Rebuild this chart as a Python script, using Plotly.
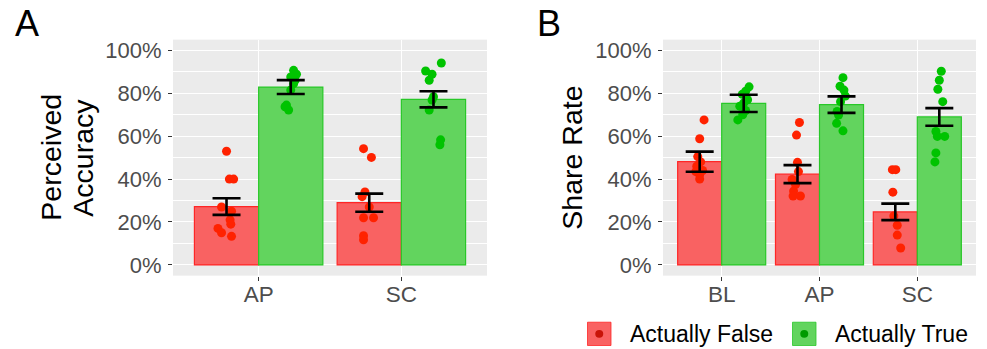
import plotly.graph_objects as go

FONT = "Liberation Sans, Arial, sans-serif"

# ---------------- data ----------------
# Panel A: Perceived Accuracy (%)
a_cats = ["AP", "SC"]
a_false_mean = [27.2, 29.0]
a_false_se = [3.9, 4.2]
a_true_mean = [82.9, 77.2]
a_true_se = [3.25, 3.75]
a_false_pts = [
    [53, 40, 40, 27, 25, 21, 19, 17, 15, 13.3],
    [54.2, 50.1, 34, 31.8, 27, 22, 22, 13.6, 11.7],
]
a_false_jit = [
    [0, .02, .05, -.035, .035, .025, .03, -.06, -.035, .035],
    [-.04, .015, -.03, -.05, 0, -.04, .03, -.04, -.04],
]
a_true_pts = [
    [90.7, 88.9, 87.6, 86, 84.5, 81.5, 74.5, 73.7, 72.2],
    [94.1, 90.4, 88.9, 86.1, 78.4, 76.9, 72.2, 58.3, 56],
]
a_true_jit = [
    [.02, .04, 0, .03, .02, 0, -.03, -.04, -.015],
    [.055, -.055, -.01, -.03, 0, -.01, -.03, .05, .045],
]

# Panel B: Share Rate (%)
b_cats = ["BL", "AP", "SC"]
b_false_mean = [48.1, 42.3, 24.7]
b_false_se = [4.7, 4.2, 3.85]
b_true_mean = [75.3, 74.7, 69.0]
b_true_se = [4.0, 3.85, 4.1]
b_false_pts = [
    [67.6, 58.8, 50.5, 48, 46, 44, 43.5, 42, 40],
    [66.4, 60.5, 47.8, 43.5, 39.8, 37.5, 34.4, 32.1, 32.1],
    [44.4, 44.4, 33.9, 22.8, 18.5, 13.9, 7.9],
]
b_false_jit = [
    [.045, 0, -.02, .01, -.03, .03, -.04, 0, 0],
    [.02, -.01, 0, .01, -.055, -.02, -.04, .03, -.045],
    [-.03, .005, -.025, -.015, .02, .02, .055],
]
b_true_pts = [
    [83, 81, 79.5, 77, 75.5, 74, 72, 70, 67.6],
    [87.3, 83.3, 81.5, 78.7, 76.1, 71.5, 69.9, 66, 62.5],
    [90.3, 86.1, 81.9, 76.1, 62.2, 59.9, 59.9, 52.2, 48],
]
b_true_jit = [
    [.055, .02, -.015, .04, 0, -.04, .02, -.01, -.06],
    [.015, -.015, .025, .04, -.01, -.045, -.03, -.05, .015],
    [.02, 0, -.015, .035, -.035, .055, -.02, -.035, -.045],
]

y_ticks = [0, 20, 40, 60, 80, 100]
y_tick_labels = ["0%", "20%", "40%", "60%", "80%", "100%"]
legend_labels = ["Actually False", "Actually True"]

# ---------------- styles ----------------
RED_FILL, RED_LINE, RED_PT, RED_KEYDOT = "#F96262", "#FF2626", "#FF2200", "#C81408"
GRN_FILL, GRN_LINE, GRN_PT, GRN_KEYDOT = "#62D45E", "#28C828", "#00C300", "#009A00"
BW = 0.45  # each bar width (dodge 0.9)

W, H = 987, 349
fig = go.Figure()


def add_panel(xa, ya, cats, fm, fse, tm, tse, fpts, fjit, tpts, tjit):
    pos = list(range(1, len(cats) + 1))
    xf = [p - BW / 2 for p in pos]
    xt = [p + BW / 2 for p in pos]
    fig.add_trace(go.Bar(x=xf, y=fm, width=BW, marker=dict(color=RED_FILL, line=dict(color=RED_LINE, width=1.2)),
                         xaxis=xa, yaxis=ya, showlegend=False, hoverinfo="skip"))
    fig.add_trace(go.Bar(x=xt, y=tm, width=BW, marker=dict(color=GRN_FILL, line=dict(color=GRN_LINE, width=1.2)),
                         xaxis=xa, yaxis=ya, showlegend=False, hoverinfo="skip"))
    # jittered points
    for centers, pts, jit, col in ((xf, fpts, fjit, RED_PT), (xt, tpts, tjit, GRN_PT)):
        px, py = [], []
        for c, vals, js in zip(centers, pts, jit):
            for v, j in zip(vals, js):
                px.append(c + j)
                py.append(v)
        fig.add_trace(go.Scatter(x=px, y=py, mode="markers", marker=dict(color=col, size=9, line=dict(width=0)),
                                 xaxis=xa, yaxis=ya, showlegend=False, hoverinfo="skip"))
    # error bars on top
    for centers, m, se in ((xf, fm, fse), (xt, tm, tse)):
        fig.add_trace(go.Scatter(x=centers, y=m, mode="markers", marker=dict(size=1, color="rgba(0,0,0,0)"),
                                 error_y=dict(type="data", array=se, visible=True, color="black", thickness=2.6, width=14),
                                 xaxis=xa, yaxis=ya, showlegend=False, hoverinfo="skip"))
    return pos


posA = add_panel("x", "y", a_cats, a_false_mean, a_false_se, a_true_mean, a_true_se,
                 a_false_pts, a_false_jit, a_true_pts, a_true_jit)
posB = add_panel("x2", "y2", b_cats, b_false_mean, b_false_se, b_true_mean, b_true_se,
                 b_false_pts, b_false_jit, b_true_pts, b_true_jit)

ydom = [1 - 277 / H, 1 - 39 / H]
common_x = dict(showgrid=True, gridcolor="white", gridwidth=1.3, zeroline=False, ticks="outside", ticklen=4,
                tickwidth=1.1, tickcolor="#333333", tickfont=dict(family=FONT, size=22.5, color="#4D4D4D"),
                showline=False, fixedrange=True, tickmode="array", ticklabelstandoff=-6)
common_y = dict(range=[-5, 105], tickmode="array", tickvals=y_ticks, ticktext=y_tick_labels,
                showgrid=True, gridcolor="white", gridwidth=1.3,
                zeroline=False, ticks="outside", ticklen=4, tickwidth=1.1, tickcolor="#333333",
                tickfont=dict(family=FONT, size=22, color="#4D4D4D"), showline=False, fixedrange=True,
                minor=dict(tickmode="array", tickvals=[10, 30, 50, 70, 90], showgrid=True,
                           gridcolor="white", gridwidth=0.6, ticks=""),
                domain=ydom, ticklabelstandoff=2)

fig.update_layout(
    width=W, height=H, margin=dict(l=0, r=0, t=0, b=0),
    paper_bgcolor="white", plot_bgcolor="#EBEBEB",
    barmode="overlay", showlegend=False,
    font=dict(family=FONT),
    xaxis=dict(common_x, domain=[173 / W, 487 / W], range=[0.4, len(a_cats) + 0.6], tickvals=posA,
               ticktext=a_cats, anchor="y"),
    yaxis=dict(common_y, anchor="x"),
    xaxis2=dict(common_x, domain=[663 / W, 976 / W], range=[0.4, len(b_cats) + 0.6], tickvals=posB,
                ticktext=b_cats, anchor="y2"),
    yaxis2=dict(common_y, anchor="x2"),
)

ann = []
# panel labels
ann.append(dict(text="A", x=27 / W, y=1 - 23 / H, xref="paper", yref="paper", showarrow=False,
                font=dict(family=FONT, size=36, color="black"), xanchor="center", yanchor="middle"))
ann.append(dict(text="B", x=549 / W, y=1 - 23 / H, xref="paper", yref="paper", showarrow=False,
                font=dict(family=FONT, size=36, color="black"), xanchor="center", yanchor="middle"))
ymid = 1 - 158 / H
# axis titles
ann.append(dict(text="Perceived", x=51 / W, y=ymid, xref="paper", yref="paper", showarrow=False, textangle=-90,
                font=dict(family=FONT, size=28.5, color="black"), xanchor="center", yanchor="middle"))
ann.append(dict(text="Accuracy", x=83 / W, y=ymid, xref="paper", yref="paper", showarrow=False, textangle=-90,
                font=dict(family=FONT, size=28.5, color="black"), xanchor="center", yanchor="middle"))
ann.append(dict(text="Share Rate", x=572 / W, y=ymid, xref="paper", yref="paper", showarrow=False, textangle=-90,
                font=dict(family=FONT, size=28.5, color="black"), xanchor="center", yanchor="middle"))

# manual legend (key squares with dot + text)
shapes = []
keys = [(587.5, RED_FILL, RED_LINE, RED_KEYDOT, 628), (792.5, GRN_FILL, GRN_LINE, GRN_KEYDOT, 833)]
for (kx, fill, line, dot, tx), lab in zip(keys, legend_labels):
    shapes.append(dict(type="rect", xref="paper", yref="paper", x0=kx / W, x1=(kx + 23.5) / W,
                       y0=1 - 347.5 / H, y1=1 - 324 / H, fillcolor=fill, line=dict(color=line, width=0.8), layer="above"))
    cx, cy = kx + 11.75, 335.75
    shapes.append(dict(type="circle", xref="paper", yref="paper", x0=(cx - 4) / W, x1=(cx + 4) / W,
                       y0=1 - (cy + 4) / H, y1=1 - (cy - 4) / H, fillcolor=dot, line=dict(width=0), layer="above"))
    ann.append(dict(text=lab, x=tx / W, y=1 - 335.5 / H, xref="paper", yref="paper", showarrow=False,
                    font=dict(family=FONT, size=23, color="black"), xanchor="left", yanchor="middle"))

fig.update_layout(annotations=ann, shapes=shapes)
fig.write_html("out.html", config={"displayModeBar": False},
               post_script="document.body.style.margin='0px';document.body.style.padding='0px';")
